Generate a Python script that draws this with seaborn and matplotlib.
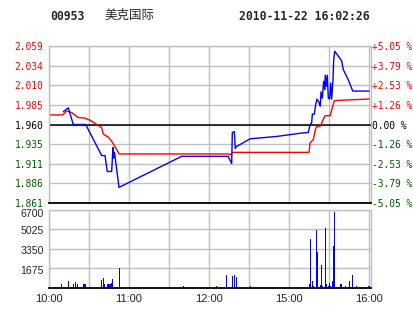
import matplotlib
matplotlib.use("Agg")
import matplotlib.pyplot as plt
import seaborn as sns
import numpy as np

# ---------------- data ----------------
code = "00953"
name = "美克国际"
stamp = "2010-11-22 16:02:26"
prev_close = 1.960

# session minutes from 10:00 (12:30 -> 14:30 break collapsed)
price_t = [10.7, 14.5, 18.2, 27.5, 39.5, 42.0, 43.7, 47.0, 48.0, 48.5, 49.1, 52.5, 99.5,
           134.3, 137.0, 137.5, 139.0, 139.7, 140.3, 150.8, 170.8, 188.3, 194.5, 195.8,
           197.0, 197.5, 199.0, 200.0, 201.0, 202.7, 203.5, 204.0, 205.0, 206.0, 206.8,
           207.2, 208.0, 208.7, 209.5, 210.5, 211.3, 212.0, 213.0, 213.5, 214.3, 216.5,
           219.5, 220.7, 224.5, 227.8, 240.0]
price = [1.976, 1.981, 1.960, 1.960, 1.921, 1.921, 1.901, 1.901, 1.931, 1.918, 1.925, 1.881,
         1.920, 1.920, 1.911, 1.950, 1.951, 1.930, 1.932, 1.942, 1.945, 1.949, 1.950, 1.960,
         1.962, 1.973, 1.973, 1.985, 1.992, 1.987, 1.983, 2.001, 1.993, 2.014, 2.004, 2.022,
         2.008, 2.022, 1.993, 1.992, 2.012, 1.992, 2.016, 2.041, 2.052, 2.047, 2.040, 2.029,
         2.016, 2.002, 2.002]

avg_t = [0, 10.3, 13.3, 17.0, 19.5, 21.5, 27.0, 31.3, 35.8, 39.5, 40.7, 44.5, 47.0, 49.5,
         52.7, 134.5, 135.8, 138.2, 195.0, 195.8, 198.2, 200.0, 200.8, 203.3, 204.5, 207.0,
         210.8, 214.0, 225.8, 240.0]
avg_price = [1.972, 1.972, 1.977, 1.975, 1.972, 1.969, 1.968, 1.965, 1.960, 1.956, 1.948,
             1.944, 1.939, 1.932, 1.923, 1.923, 1.922, 1.925, 1.925, 1.937, 1.941, 1.955,
             1.957, 1.958, 1.962, 1.971, 1.971, 1.990, 1.991, 1.992]

vol_t = [9.25, 14.5, 18.2, 19.75, 21.2, 25.7, 27.0, 39.2, 40.7, 41.5, 43.7, 44.7, 45.7, 47.0,
         47.5, 52.7, 100.7, 125.7, 133.2, 137.5, 139.0, 140.5, 151.0, 195.2, 196.0, 197.5,
         198.2, 200.5, 201.2, 203.5, 204.2, 205.0, 207.2, 208.0, 209.5, 210.2, 211.0, 212.5,
         213.2, 214.0, 218.5, 219.2, 222.2, 225.2, 227.5, 230.5, 240.0]
volume = [341, 596, 341, 511, 341, 341, 341, 682, 852, 341, 341, 341, 341, 426, 767, 1680,
          170, 170, 1108, 1022, 1108, 937, 170, 341, 4203, 596, 170, 4942, 3067, 256, 1960,
          170, 5112, 341, 170, 426, 170, 596, 3578, 6475, 341, 341, 170, 596, 1108, 170, 170]

price_ticks = [2.059, 2.034, 2.010, 1.985, 1.960, 1.935, 1.911, 1.886, 1.861]
pct_labels = ["+5.05 %", "+3.79 %", "+2.53 %", "+1.26 %", "0.00 %",
              "-1.26 %", "-2.53 %", "-3.79 %", "-5.05 %"]
vol_ticks = [1675, 3350, 5025, 6700]
time_ticks = [0, 60, 120, 180, 240]
time_labels = ["10:00", "11:00", "12:00", "15:00", "16:00"]

# ---------------- style ----------------
sns.set_style("white")
plt.rcParams['font.family'] = ['DejaVu Sans', 'Noto Sans CJK SC']

RED = "#ff0000"
BLUE = "#0000ff"
GREEN = "#005a00"
GRID = "#c0c0c0"

fig = plt.figure(figsize=(4.14, 3.14), dpi=100)
L, R = 49 / 414, 371 / 414
axp = fig.add_axes([L, 1 - 203.3 / 314, R - L, (203.3 - 45.7) / 314])
axv = fig.add_axes([L, 1 - 288 / 314, R - L, (288 - 209.5) / 314])

xmax = 241.5
grid_x = np.arange(0, 241, 30)
lo, hi = prev_close * (1 - 0.0505), prev_close * (1 + 0.0505)


def label_color(v):
    if abs(v - prev_close) < 1e-6:
        return "black"
    return RED if v > prev_close else GREEN


# ---- price panel ----
for gx in grid_x:
    axp.axvline(gx, color=GRID, lw=1.0, zorder=0)
for ty in price_ticks:
    axp.axhline(ty, color=GRID, lw=1.0, zorder=0)
axp.axhline(prev_close, color="black", lw=1.1, zorder=1)

sns.lineplot(x=avg_t, y=avg_price, ax=axp, color=RED, lw=1.0, estimator=None, sort=False)
sns.lineplot(x=price_t, y=price, ax=axp, color=BLUE, lw=1.0, estimator=None, sort=False)

axp.set_xlim(0, xmax)
axp.set_ylim(lo, hi)
axp.set_xticks([])
axp.set_yticks(price_ticks)
axp.set_yticklabels([f"{v:.3f}" for v in price_ticks],
                    family="DejaVu Sans Mono", fontsize=6.9)
for lab, v in zip(axp.get_yticklabels(), price_ticks):
    lab.set_color(label_color(v))
axp.tick_params(axis="y", length=0, pad=4)
axp.set_xlabel("")
axp.set_ylabel("")
for s in ["top", "left", "right"]:
    axp.spines[s].set_color(GRID)
    axp.spines[s].set_linewidth(1.0)
axp.spines["bottom"].set_color("black")
axp.spines["bottom"].set_linewidth(1.3)

axr = axp.twinx()
axr.set_ylim(lo, hi)
axr.set_yticks(price_ticks)
axr.set_yticklabels(pct_labels, family="DejaVu Sans Mono", fontsize=6.9)
for lab, v in zip(axr.get_yticklabels(), price_ticks):
    lab.set_color(label_color(v))
axr.tick_params(axis="y", length=0, pad=1)
for s in axr.spines.values():
    s.set_visible(False)

# ---- volume panel ----
for gx in grid_x:
    axv.axvline(gx, color=GRID, lw=1.0, zorder=0)
for ty in vol_ticks:
    axv.axhline(ty, color=GRID, lw=1.0, zorder=0)
axv.bar(vol_t, volume, width=0.9, color=BLUE, linewidth=0, zorder=2)
axv.set_xlim(0, xmax)
axv.set_ylim(0, 6700)
axv.set_yticks(vol_ticks)
axv.set_yticklabels([])
for v in vol_ticks:
    dy = -3.0 if v == max(vol_ticks) else -1.6
    axv.annotate(str(v), xy=(0, v), xycoords=axv.get_yaxis_transform(),
                 xytext=(-3.5, dy), textcoords="offset points",
                 ha="right", va="center", family="Liberation Sans", fontsize=7.6)
axv.set_xticks(time_ticks)
axv.set_xticklabels(time_labels, family="Liberation Sans", fontsize=8)
axv.tick_params(length=0, pad=4)
for s in ["top", "left", "right"]:
    axv.spines[s].set_color(GRID)
    axv.spines[s].set_linewidth(1.0)
axv.spines["bottom"].set_color("black")
axv.spines["bottom"].set_linewidth(1.3)

# ---- header ----
fig.text(50 / 414, 1 - 16 / 314, code, family="DejaVu Sans Mono", weight="bold",
         fontsize=8.3, va="center", ha="left")
fig.text(104 / 414, 1 - 15 / 314, name, family=["Noto Sans CJK SC", "DejaVu Sans"],
         fontsize=9, va="center", ha="left")
fig.text(370 / 414, 1 - 16 / 314, stamp, family="DejaVu Sans Mono", weight="bold",
         fontsize=8.3, va="center", ha="right")

fig.savefig("out.png", dpi=100, facecolor="white")
